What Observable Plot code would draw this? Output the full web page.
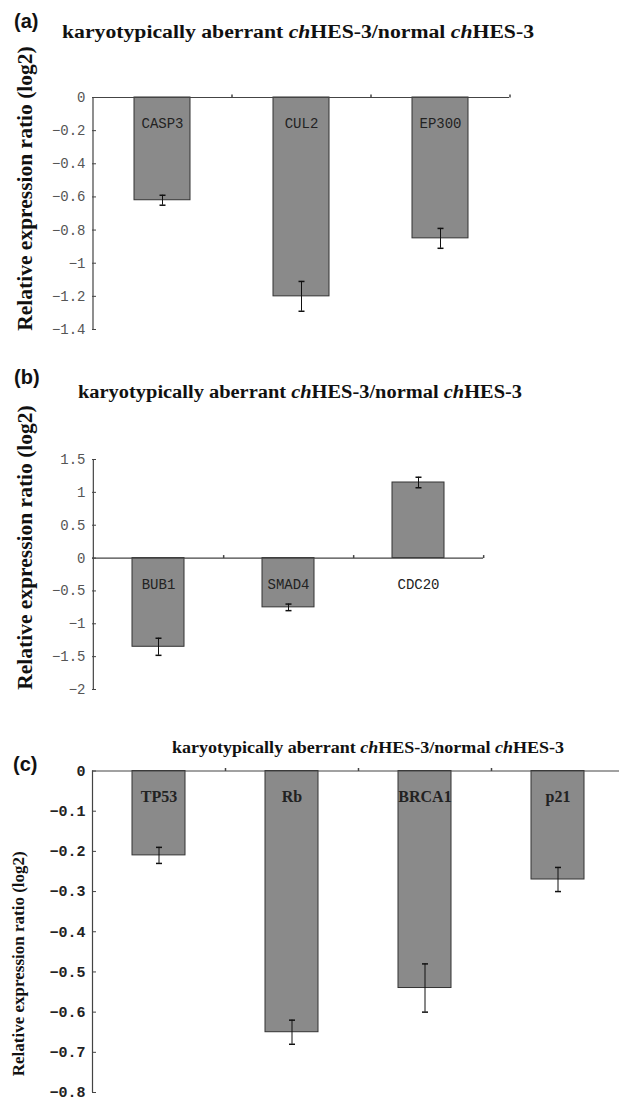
<!DOCTYPE html>
<html><head><meta charset="utf-8">
<script src="https://cdn.jsdelivr.net/npm/d3@7"></script>
<script src="https://cdn.jsdelivr.net/npm/@observablehq/plot@0.6"></script>
<style>
html,body{margin:0;padding:0;background:#fff;overflow:hidden;}
#root{position:relative;width:619px;height:1103px;}
#root svg{position:absolute;left:0;}
.letter{position:absolute;font:bold 20px "Liberation Sans",Arial,sans-serif;color:#111;line-height:1;transform:translateY(-50%);}
.title{position:absolute;white-space:nowrap;font-family:"Liberation Serif","Times New Roman",serif;font-weight:bold;color:#111;line-height:1;transform-origin:0 50%;}
</style></head><body><div id="root"></div>
<script>
// ---- data ----
const genesA = ["CASP3", "CUL2", "EP300"];
const valuesA = [-0.62, -1.2, -0.85];
const errorsA = [0.03, 0.09, 0.06];
const ticksA = [0, -0.2, -0.4, -0.6, -0.8, -1, -1.2, -1.4];

const genesB = ["BUB1", "SMAD4", "CDC20"];
const valuesB = [-1.35, -0.75, 1.15];
const errorsB = [0.13, 0.05, 0.08];
const ticksB = [1.5, 1, 0.5, 0, -0.5, -1, -1.5, -2];

const genesC = ["TP53", "Rb", "BRCA1", "p21"];
const valuesC = [-0.21, -0.65, -0.54, -0.27];
const errorsC = [0.02, 0.03, 0.06, 0.03];
const ticksC = [0, -0.1, -0.2, -0.3, -0.4, -0.5, -0.6, -0.7, -0.8];

const panelLetters = ["(a)", "(b)", "(c)"];
const titleHTML = 'karyotypically aberrant <i>ch</i>HES-3/normal <i>ch</i>HES-3';
const yLabel = "Relative expression ratio (log2)";

const root = document.getElementById("root");
const fmt = d => d === 0 ? "0" : (d < 0 ? "\u2212" : "") + Math.abs(d);
const upTick = {draw(ctx) { ctx.moveTo(0, 0); ctx.lineTo(0, -3); }};
const cap = {draw(ctx) { ctx.moveTo(-3, 0); ctx.lineTo(3, 0); }};

function panel(cfg) {
  const data = cfg.genes.map((g, i) => ({gene: g, value: cfg.values[i], err: cfg.errors[i]}));
  const W = 619, ML = 92;
  const frameW = W - ML - cfg.mr;
  const step = frameW / cfg.genes.length;
  const svg = Plot.plot({
    width: W, height: cfg.height,
    marginLeft: ML, marginRight: cfg.mr, marginTop: cfg.mt, marginBottom: cfg.mb,
    style: {background: "transparent", overflow: "visible"},
    x: {domain: cfg.genes, paddingInner: 0.6, paddingOuter: 0.3, axis: null},
    y: {domain: cfg.domain, axis: null},
    marks: [
      Plot.barY(data, {x: "gene", y: "value", fill: "#8a8a8a", stroke: "#333", strokeWidth: 1}),
      Plot.ruleY([0], {stroke: "#444", strokeWidth: 1.2}),
      Plot.ruleX([cfg.genes[0]], {dx: -step / 2, stroke: "#444", strokeWidth: 1.2}),
      Plot.ruleY(cfg.ticks, {stroke: "#444", insetRight: frameW - 4}),
      Plot.dot(cfg.genes, {x: d => d, y: () => 0, symbol: upTick, fill: "none", stroke: "#444", dx: step / 2}),
      Plot.ruleX(data, {x: "gene", y1: d => d.value - d.err, y2: d => d.value + d.err, stroke: "#111"}),
      Plot.dot(data, {x: "gene", y: d => d.value - d.err, symbol: cap, fill: "none", stroke: "#111"}),
      Plot.dot(data, {x: "gene", y: d => d.value + d.err, symbol: cap, fill: "none", stroke: "#111"}),
      Plot.axisY(cfg.ticks, {tickSize: 0, tickPadding: 7, tickFormat: fmt, label: null,
        fontFamily: cfg.tickFont, fontSize: cfg.tickSize, fontWeight: cfg.tickWeight, fill: cfg.tickColor}),
      Plot.text(data, {x: "gene", y: () => 0, text: "gene", dy: 26,
        fontFamily: cfg.barFont, fontSize: cfg.barSize, fontWeight: cfg.barWeight, fill: "#222"}),
      Plot.text([yLabel], {frameAnchor: "left", textAnchor: "middle", lineAnchor: "middle", rotate: -90, dx: cfg.ldx, dy: cfg.ldy,
        fontFamily: '"Liberation Serif", "Times New Roman", serif', fontWeight: "bold", fontSize: cfg.lsize, fill: "#111"})
    ]
  });
  svg.style.top = cfg.top + "px";
  root.appendChild(svg);

  const L = document.createElement("div");
  L.className = "letter"; L.textContent = cfg.letter;
  L.style.left = cfg.letterX + "px"; L.style.top = cfg.letterY + "px";
  root.appendChild(L);

  const T = document.createElement("div");
  T.className = "title"; T.innerHTML = titleHTML;
  T.style.fontSize = cfg.titleSize + "px";
  T.style.left = cfg.titleX + "px"; T.style.top = (cfg.titleY - cfg.titleSize / 2) + "px";
  root.appendChild(T);
  const w = T.getBoundingClientRect().width;
  T.style.transform = `scaleX(${cfg.titleW / w})`;
}

panel({genes: genesA, values: valuesA, errors: errorsA, ticks: ticksA, domain: [-1.4, 0],
  top: 50, height: 300, mt: 47, mb: 21, mr: 110,
  tickFont: '"Liberation Mono", monospace', tickSize: 14, tickWeight: "normal", tickColor: "#555",
  barFont: '"Liberation Mono", monospace', barSize: 14, barWeight: "normal",
  ldx: -67, ldy: -25, lsize: 21.5,
  letter: panelLetters[0], letterX: 14, letterY: 21,
  titleX: 62, titleY: 32, titleSize: 18, titleW: 472});

panel({genes: genesB, values: valuesB, errors: errorsB, ticks: ticksB, domain: [-2, 1.5],
  top: 355, height: 355, mt: 104, mb: 21, mr: 136,
  tickFont: '"Liberation Mono", monospace', tickSize: 14, tickWeight: "normal", tickColor: "#555",
  barFont: '"Liberation Mono", monospace', barSize: 14, barWeight: "normal",
  ldx: -67, ldy: -27, lsize: 21.5,
  letter: panelLetters[1], letterX: 14, letterY: 377,
  titleX: 78, titleY: 392, titleSize: 18, titleW: 444});

panel({genes: genesC, values: valuesC, errors: errorsC, ticks: ticksC, domain: [-0.8, 0],
  top: 720, height: 383, mt: 50.5, mb: 11, mr: -5,
  tickFont: '"Liberation Mono", monospace', tickSize: 15, tickWeight: "bold", tickColor: "#222",
  barFont: '"Liberation Serif", "Times New Roman", serif', barSize: 16, barWeight: "bold",
  ldx: -74, ldy: 32, lsize: 17,
  letter: panelLetters[2], letterX: 13, letterY: 764,
  titleX: 172, titleY: 748, titleSize: 16, titleW: 392});
</script>
</body></html>
